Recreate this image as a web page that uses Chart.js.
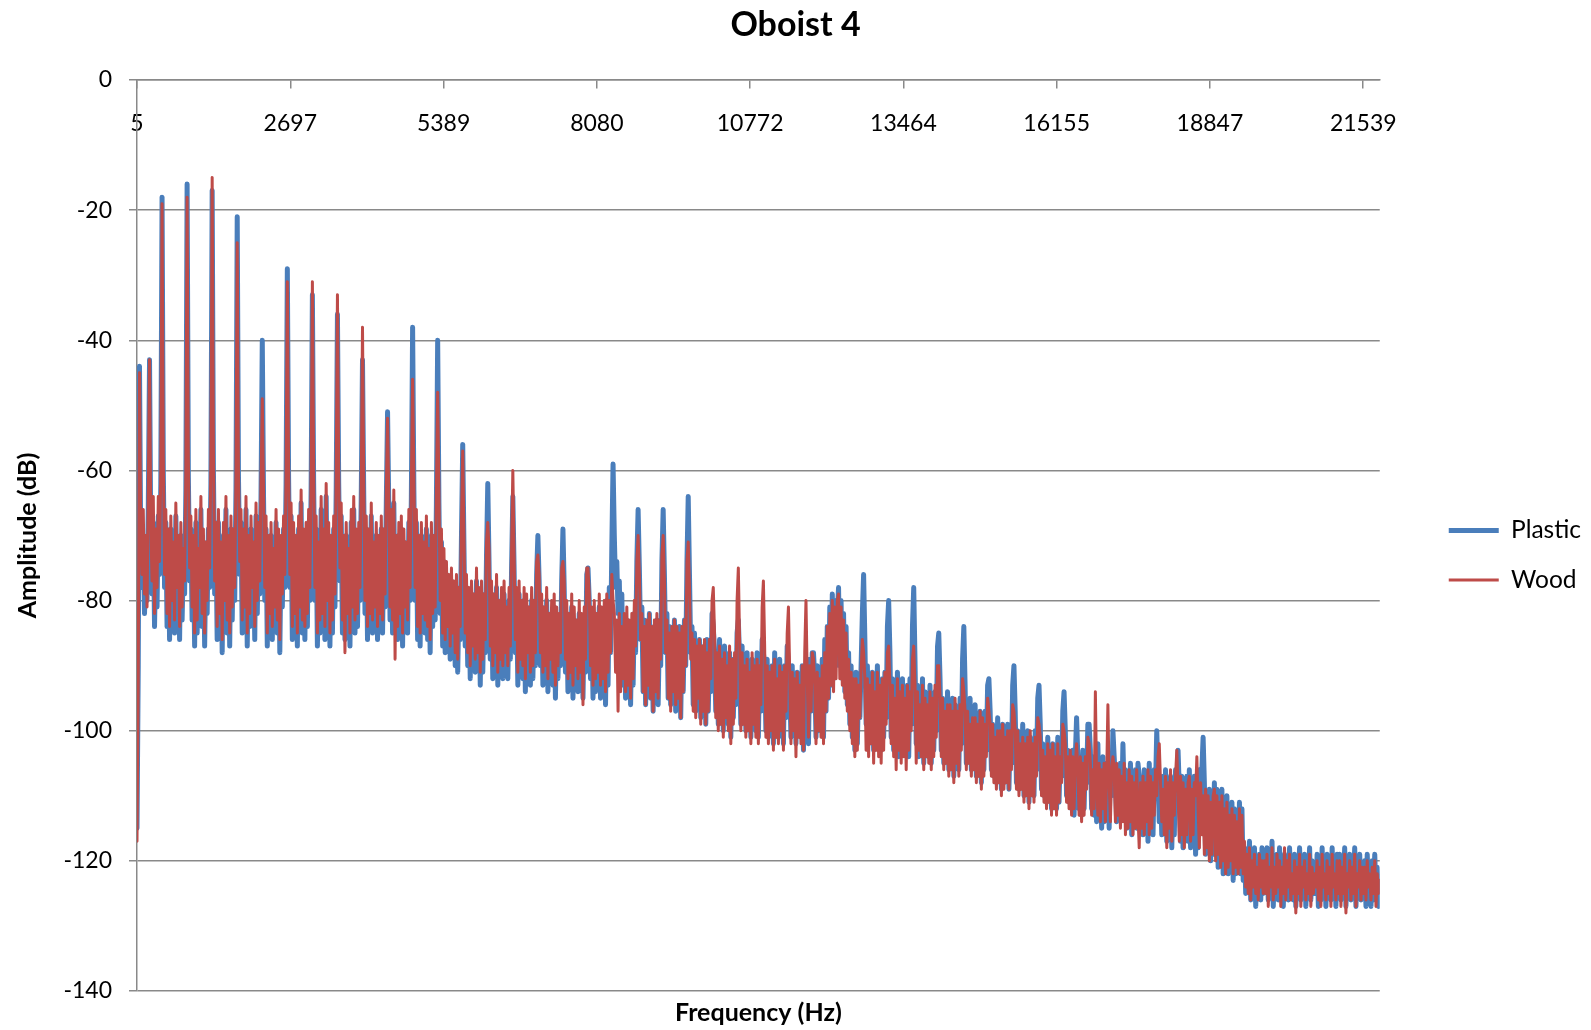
<!DOCTYPE html>
<html>
<head>
<meta charset="utf-8">
<title>Oboist 4</title>
<script src="https://cdn.jsdelivr.net/npm/chart.js@4.4.0/dist/chart.umd.min.js"></script>
<style>
  html, body { margin: 0; padding: 0; background: #ffffff; }
  #wrap { width: 1591px; height: 1030px; }
</style>
</head>
<body>
<div id="wrap"><canvas id="spectrumChart" width="1591" height="1030"></canvas></div>
<script>
// spectrum bins: first bin at 5 Hz, one value every 22 Hz (harmonics of ~440 Hz land on every 20th bin)
const freqStart = 5;
const freqStep = 22;
const freqMax = 21829;

const tickFreqs = [5, 2697, 5389, 8080, 10772, 13464, 16155, 18847, 21539];
const tickLabels = ["5", "2697", "5389", "8080", "10772", "13464", "16155", "18847", "21539"];

// one row per harmonic interval (20 bins)
const plasticDb = [
  -115, -90, -44, -72, -78, -70, -82, -74, -80, -66, -43, -70, -79, -68, -84, -72, -81, -67, -76, -62,
  -18, -60, -78, -68, -84, -71, -86, -69, -82, -73, -85, -67, -80, -72, -86, -70, -83, -74, -79, -63,
  -16, -61, -77, -69, -83, -72, -87, -68, -85, -74, -80, -66, -84, -71, -87, -73, -82, -69, -78, -62,
  -17, -60, -79, -70, -86, -68, -84, -73, -88, -70, -82, -66, -85, -72, -87, -69, -83, -71, -80, -63,
  -21, -61, -76, -68, -85, -71, -83, -66, -87, -72, -84, -69, -80, -73, -86, -67, -82, -70, -79, -64,
  -40, -64, -80, -69, -87, -72, -84, -70, -86, -74, -83, -68, -85, -71, -88, -72, -81, -69, -78, -62,
  -29, -61, -78, -67, -86, -70, -84, -72, -87, -69, -83, -65, -85, -71, -86, -70, -84, -68, -80, -63,
  -33, -62, -80, -69, -87, -73, -85, -66, -84, -71, -86, -64, -82, -70, -87, -72, -85, -69, -81, -63,
  -36, -62, -77, -67, -85, -72, -86, -70, -84, -74, -87, -68, -83, -66, -85, -71, -84, -70, -80, -64,
  -43, -64, -82, -69, -86, -71, -84, -67, -85, -73, -83, -70, -86, -72, -84, -69, -85, -71, -81, -65,
  -51, -66, -83, -68, -85, -65, -84, -72, -86, -70, -84, -69, -87, -71, -83, -73, -85, -68, -80, -64,
  -38, -63, -80, -68, -86, -72, -87, -70, -84, -73, -85, -69, -86, -74, -88, -70, -84, -72, -83, -65,
  -40, -65, -82, -71, -87, -74, -88, -76, -86, -78, -89, -77, -87, -79, -90, -78, -91, -80, -86, -70,
  -56, -72, -87, -78, -90, -80, -92, -79, -89, -81, -91, -77, -90, -80, -93, -79, -91, -81, -88, -73,
  -62, -74, -89, -79, -92, -81, -90, -78, -93, -82, -91, -80, -92, -79, -90, -83, -92, -80, -89, -75,
  -64, -75, -88, -80, -93, -79, -91, -82, -92, -80, -94, -81, -90, -83, -93, -80, -92, -82, -90, -76,
  -70, -77, -90, -81, -93, -83, -92, -80, -94, -84, -91, -82, -93, -81, -95, -83, -92, -84, -90, -77,
  -69, -78, -91, -82, -94, -84, -93, -81, -95, -83, -92, -85, -94, -82, -93, -84, -95, -83, -91, -76,
  -75, -80, -92, -83, -95, -82, -94, -84, -93, -81, -95, -83, -94, -82, -96, -80, -93, -78, -88, -72,
  -59, -70, -78, -74, -82, -77, -88, -79, -93, -84, -95, -83, -94, -85, -96, -84, -93, -82, -88, -74,
  -66, -75, -86, -81, -94, -83, -96, -85, -93, -82, -95, -86, -97, -84, -94, -83, -96, -85, -90, -74,
  -66, -76, -88, -82, -95, -84, -96, -86, -94, -83, -97, -85, -95, -84, -98, -86, -94, -83, -90, -74,
  -64, -76, -88, -84, -96, -85, -97, -87, -95, -86, -98, -88, -96, -87, -99, -86, -97, -88, -94, -82,
  -84, -88, -97, -88, -99, -86, -98, -89, -100, -87, -97, -90, -99, -88, -101, -89, -98, -90, -96, -85,
  -83, -89, -99, -87, -98, -90, -100, -88, -99, -91, -101, -89, -98, -90, -100, -88, -101, -90, -97, -86,
  -88, -90, -100, -89, -101, -91, -99, -90, -102, -88, -100, -92, -101, -89, -99, -91, -102, -90, -98, -87,
  -90, -93, -101, -90, -99, -92, -102, -91, -100, -93, -101, -90, -103, -92, -100, -91, -102, -89, -97, -88,
  -88, -92, -101, -90, -100, -92, -99, -89, -101, -86, -97, -84, -95, -81, -93, -79, -92, -80, -90, -82,
  -78, -90, -80, -92, -82, -94, -84, -96, -88, -99, -90, -101, -92, -103, -91, -102, -93, -98, -90, -82,
  -76, -86, -99, -90, -102, -92, -100, -91, -103, -93, -101, -90, -102, -94, -103, -92, -101, -91, -98, -84,
  -80, -88, -101, -92, -103, -93, -102, -91, -104, -94, -101, -92, -103, -95, -102, -93, -104, -92, -99, -84,
  -78, -89, -102, -93, -104, -95, -103, -92, -105, -94, -102, -96, -104, -93, -105, -95, -103, -94, -100, -87,
  -85, -92, -103, -95, -105, -96, -104, -94, -106, -97, -105, -95, -107, -96, -104, -97, -106, -95, -102, -89,
  -84, -93, -105, -97, -104, -95, -106, -98, -105, -96, -107, -99, -106, -97, -108, -98, -106, -97, -103, -93,
  -92, -97, -106, -99, -107, -100, -108, -98, -107, -101, -109, -99, -108, -100, -107, -99, -109, -100, -105, -93,
  -90, -97, -108, -100, -109, -101, -108, -99, -110, -102, -109, -100, -111, -101, -109, -102, -110, -100, -106, -95,
  -93, -99, -109, -102, -110, -103, -111, -101, -110, -104, -112, -102, -111, -103, -112, -101, -111, -103, -107, -97,
  -94, -100, -110, -103, -111, -104, -112, -103, -113, -104, -98, -104, -112, -105, -113, -103, -112, -104, -108, -99,
  -99, -103, -112, -104, -113, -105, -114, -102, -113, -106, -115, -104, -114, -105, -113, -106, -115, -104, -110, -100,
  -104, -108, -114, -106, -113, -105, -112, -102, -110, -106, -115, -107, -114, -105, -116, -107, -114, -106, -115, -105,
  -107, -115, -108, -116, -106, -114, -107, -117, -105, -115, -108, -116, -106, -109, -100, -107, -114, -108, -116, -107,
  -115, -106, -117, -108, -116, -107, -118, -109, -116, -106, -110, -103, -109, -117, -107, -118, -108, -116, -107, -117,
  -106, -118, -108, -117, -107, -119, -109, -118, -106, -112, -106, -101, -108, -119, -110, -118, -109, -120, -110, -119,
  -108, -119, -109, -121, -110, -120, -109, -122, -111, -121, -110, -122, -112, -121, -111, -123, -112, -122, -113, -121,
  -111, -122, -112, -123, -118, -125, -119, -124, -117, -126, -119, -125, -118, -127, -120, -124, -119, -126, -118, -125,
  -119, -124, -118, -126, -120, -125, -117, -127, -121, -124, -119, -126, -118, -125, -120, -127, -119, -124, -121, -126,
  -118, -125, -121, -126, -119, -127, -120, -124, -118, -126, -120, -125, -119, -127, -121, -124, -118, -126, -120, -125,
  -121, -125, -119, -127, -120, -126, -118, -125, -121, -127, -119, -124, -120, -126, -118, -125, -121, -127, -119, -125,
  -119, -126, -120, -124, -118, -127, -121, -125, -119, -126, -120, -124, -118, -127, -120, -125, -119, -126, -121, -124,
  -120, -127, -119, -125, -121, -127, -120, -126, -119, -125, -121, -127, -124
];

const woodDb = [
  -117, -92, -45, -70, -76, -66, -79, -70, -81, -64, -43, -68, -77, -64, -82, -69, -78, -64, -74, -60,
  -19, -58, -76, -66, -82, -69, -84, -67, -80, -71, -83, -65, -78, -70, -84, -68, -81, -72, -77, -60,
  -18, -58, -75, -67, -81, -70, -85, -66, -83, -72, -78, -64, -82, -69, -85, -71, -80, -66, -75, -58,
  -15, -57, -77, -68, -84, -66, -82, -71, -86, -68, -80, -64, -83, -70, -85, -67, -81, -69, -78, -61,
  -25, -60, -74, -66, -83, -69, -81, -64, -85, -70, -82, -67, -78, -71, -84, -65, -80, -68, -77, -62,
  -49, -63, -78, -67, -85, -70, -82, -68, -84, -72, -81, -66, -83, -69, -86, -70, -79, -67, -76, -61,
  -31, -59, -76, -65, -84, -68, -82, -70, -85, -67, -81, -63, -83, -69, -84, -68, -82, -66, -78, -61,
  -31, -60, -78, -67, -85, -71, -83, -64, -82, -69, -84, -62, -80, -68, -85, -70, -83, -67, -79, -61,
  -33, -60, -75, -65, -83, -70, -88, -68, -82, -72, -85, -66, -81, -64, -83, -69, -82, -68, -78, -62,
  -38, -62, -80, -67, -84, -69, -82, -65, -83, -71, -81, -68, -84, -70, -82, -67, -83, -69, -79, -63,
  -52, -64, -81, -66, -83, -63, -89, -70, -84, -68, -82, -67, -85, -69, -81, -71, -83, -66, -78, -62,
  -46, -61, -78, -66, -84, -70, -85, -68, -82, -71, -83, -67, -84, -72, -86, -68, -82, -70, -81, -63,
  -48, -63, -80, -69, -85, -72, -86, -74, -84, -76, -87, -75, -85, -77, -88, -76, -89, -78, -84, -68,
  -57, -70, -85, -76, -88, -78, -90, -77, -87, -79, -89, -75, -88, -78, -91, -77, -89, -79, -86, -71,
  -68, -72, -87, -77, -90, -79, -88, -76, -91, -80, -89, -78, -90, -77, -88, -81, -90, -78, -87, -72,
  -60, -73, -86, -78, -91, -77, -89, -80, -90, -78, -92, -79, -88, -81, -91, -78, -90, -80, -88, -74,
  -73, -76, -88, -79, -91, -81, -90, -78, -92, -82, -89, -80, -91, -79, -93, -81, -90, -82, -88, -75,
  -74, -77, -89, -80, -92, -82, -91, -79, -93, -81, -90, -83, -92, -80, -91, -82, -96, -81, -89, -75,
  -75, -79, -90, -81, -93, -80, -92, -82, -91, -79, -93, -81, -92, -80, -94, -79, -91, -80, -88, -76,
  -80, -82, -91, -83, -97, -82, -94, -84, -92, -82, -94, -81, -93, -83, -95, -82, -92, -80, -87, -74,
  -70, -76, -86, -82, -94, -84, -96, -83, -93, -82, -95, -84, -97, -83, -94, -82, -95, -83, -89, -73,
  -70, -77, -88, -83, -95, -85, -97, -84, -94, -83, -96, -84, -95, -85, -98, -84, -94, -83, -90, -74,
  -71, -78, -89, -85, -97, -86, -98, -87, -95, -86, -99, -87, -97, -86, -99, -88, -97, -86, -92, -80,
  -78, -85, -98, -88, -100, -87, -99, -89, -101, -88, -98, -90, -100, -87, -102, -89, -99, -88, -95, -80,
  -75, -86, -100, -88, -99, -90, -101, -89, -100, -91, -102, -88, -99, -90, -101, -89, -102, -90, -96, -81,
  -77, -87, -101, -90, -102, -91, -100, -90, -103, -89, -101, -92, -102, -90, -100, -91, -103, -90, -97, -85,
  -81, -91, -102, -91, -100, -92, -104, -91, -101, -93, -102, -90, -103, -88, -80, -92, -101, -90, -97, -88,
  -89, -93, -102, -91, -100, -92, -101, -90, -102, -88, -97, -84, -95, -82, -93, -80, -94, -81, -92, -80,
  -79, -92, -81, -93, -83, -95, -85, -97, -89, -100, -91, -102, -92, -104, -92, -103, -93, -98, -91, -86,
  -88, -92, -103, -92, -104, -93, -102, -91, -105, -94, -103, -91, -104, -93, -105, -92, -103, -91, -99, -88,
  -87, -93, -102, -93, -104, -95, -106, -92, -103, -94, -105, -93, -104, -95, -106, -93, -103, -94, -100, -89,
  -87, -93, -105, -94, -103, -96, -104, -93, -106, -95, -104, -96, -105, -94, -106, -95, -104, -93, -101, -90,
  -90, -95, -104, -95, -106, -97, -105, -96, -107, -96, -106, -97, -108, -95, -105, -97, -107, -96, -103, -92,
  -94, -97, -106, -97, -105, -99, -107, -98, -106, -98, -108, -99, -107, -97, -109, -98, -107, -99, -104, -95,
  -97, -99, -107, -99, -108, -101, -109, -100, -108, -100, -110, -99, -109, -101, -108, -100, -109, -100, -106, -96,
  -97, -100, -109, -100, -110, -102, -109, -101, -111, -102, -110, -101, -112, -100, -110, -102, -111, -101, -107, -98,
  -99, -101, -110, -103, -111, -104, -112, -102, -111, -103, -113, -102, -112, -104, -113, -102, -111, -104, -108, -99,
  -100, -102, -111, -104, -112, -103, -113, -104, -112, -105, -102, -106, -113, -104, -114, -105, -113, -104, -109, -101,
  -102, -105, -113, -106, -112, -94, -108, -113, -105, -114, -106, -112, -105, -114, -107, -96, -108, -114, -106, -104,
  -106, -114, -105, -113, -106, -115, -107, -114, -105, -116, -108, -115, -106, -114, -107, -116, -108, -115, -106, -113,
  -118, -108, -115, -107, -116, -108, -114, -106, -116, -107, -115, -108, -113, -106, -110, -104, -102, -108, -114, -109,
  -116, -107, -118, -108, -115, -106, -117, -108, -113, -107, -103, -109, -117, -107, -116, -108, -118, -109, -116, -108,
  -107, -117, -109, -116, -108, -110, -104, -112, -118, -108, -116, -110, -119, -109, -118, -110, -120, -111, -119, -110,
  -109, -120, -110, -119, -111, -121, -110, -120, -112, -122, -111, -121, -113, -120, -112, -122, -113, -121, -114, -122,
  -112, -121, -113, -122, -117, -124, -119, -125, -118, -126, -120, -124, -119, -125, -121, -126, -119, -124, -120, -125,
  -120, -125, -119, -127, -121, -124, -118, -126, -121, -125, -119, -124, -120, -127, -121, -125, -118, -126, -120, -124,
  -119, -126, -122, -125, -120, -128, -121, -125, -119, -127, -121, -124, -120, -126, -122, -125, -119, -127, -121, -125,
  -122, -124, -120, -126, -121, -127, -119, -124, -122, -126, -120, -125, -121, -127, -119, -124, -122, -126, -120, -125,
  -120, -127, -121, -125, -119, -128, -122, -124, -120, -126, -121, -125, -119, -127, -122, -124, -120, -126, -121, -125,
  -121, -126, -120, -124, -122, -126, -121, -125, -120, -127, -122, -125, -123
];

const textColor = "#000000";
const gridColor = "#898989";
const fontFamily = "Lato, 'Open Sans', sans-serif";

Chart.defaults.font.family = fontFamily;

const toPoints = (values) => values.map((y, i) => ({ x: freqStart + i * freqStep, y }));

new Chart(document.getElementById("spectrumChart"), {
  type: "line",
  data: {
    datasets: [
      {
        label: "Plastic",
        data: toPoints(plasticDb),
        borderColor: "#4a7ebb",
        backgroundColor: "#4a7ebb",
        borderWidth: 5,
        order: 1
      },
      {
        label: "Wood",
        data: toPoints(woodDb),
        borderColor: "#be4b48",
        backgroundColor: "#be4b48",
        borderWidth: 3,
        order: 0
      }
    ]
  },
  options: {
    responsive: false,
    animation: false,
    devicePixelRatio: 1,
    layout: { padding: 0 },
    elements: {
      point: { radius: 0, hoverRadius: 0 },
      line: { tension: 0, borderJoinStyle: "round", borderCapStyle: "round", fill: false }
    },
    plugins: {
      title: {
        display: true,
        text: "Oboist 4",
        color: textColor,
        font: { size: 34, weight: "bold" },
        padding: { top: 5, bottom: 34.2 }
      },
      subtitle: {
        display: true,
        position: "bottom",
        fullSize: false,
        text: "Frequency (Hz)",
        color: textColor,
        font: { size: 25, weight: "bold" },
        padding: { top: 7, bottom: 2 }
      },
      legend: {
        position: "right",
        align: "center",
        fullSize: false,
        title: { display: true, text: "", padding: { top: 25, bottom: 0 } },
        labels: {
          usePointStyle: true,
          pointStyle: "line",
          pointStyleWidth: 50,
          padding: 25,
          color: textColor,
          font: { size: 24.5 },
          sort: (a, b) => a.datasetIndex - b.datasetIndex
        }
      },
      tooltip: { enabled: false }
    },
    scales: {
      x: {
        type: "linear",
        position: { y: 0 },
        min: freqStart,
        max: freqMax,
        afterBuildTicks: (scale) => {
          scale.ticks = tickFreqs.map((value) => ({ value }));
        },
        ticks: {
          callback: (value, index) => tickLabels[index],
          autoSkip: false,
          maxRotation: 0,
          padding: 22,
          color: textColor,
          font: { size: 23 }
        },
        grid: {
          display: true,
          drawOnChartArea: false,
          drawTicks: true,
          tickLength: 8,
          color: gridColor,
          lineWidth: 1.5
        },
        border: { display: true, color: gridColor, width: 1.5 }
      },
      y: {
        min: -140,
        max: 0,
        afterFit: (scale) => {
          scale.width = 137;
        },
        ticks: {
          stepSize: 20,
          padding: 17,
          color: textColor,
          font: { size: 23 }
        },
        grid: { color: gridColor, lineWidth: 1.5, tickLength: 8 },
        border: { display: true, color: gridColor, width: 1.5 },
        title: {
          display: true,
          text: "Amplitude (dB)",
          color: textColor,
          font: { size: 25, weight: "bold" },
          padding: { top: 13, bottom: 0 }
        }
      },
      // empty right-hand axis only keeps the gap between plot and legend
      gap: {
        type: "linear",
        position: "right",
        afterFit: (scale) => {
          scale.width = 44;
        },
        ticks: { display: false },
        grid: { display: false },
        border: { display: false }
      }
    }
  }
});
</script>
</body>
</html>
